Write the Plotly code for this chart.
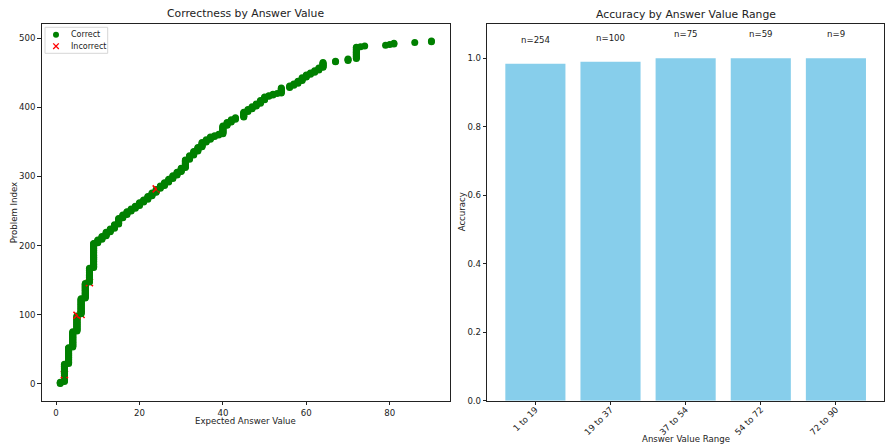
import numpy as np
import pandas as pd
import plotly.graph_objects as go

# Distinct expected answer values and the number of problems sharing each one
answer_values = [1, 2, 3, 4, 5, 6, 7, 8, 9,
                 10, 11, 12, 13, 14, 15, 16, 17, 18,
                 19, 20, 21, 22, 23, 24, 25, 26, 27, 28, 29, 30, 31, 32, 33, 34, 35, 36,
                 37, 38, 39, 40, 41, 42, 43, 45, 46, 47, 48, 49, 50, 51, 52, 53, 54,
                 56, 57, 58, 59, 60, 61, 62, 63, 64, 67, 70, 72,
                 73, 74, 79, 80, 81, 86, 90]
problem_counts = [3, 26, 24, 23, 24, 24, 22, 22, 36,
                  5, 5, 6, 5, 6, 9, 5, 5, 4,
                  4, 5, 4, 5, 5, 6, 4, 5, 5, 5, 5, 6, 12, 6, 6, 6, 7, 4,
                  4, 2, 2, 12, 5, 4, 3, 8, 4, 4, 4, 5, 5, 2, 2, 1, 8,
                  3, 3, 4, 5, 4, 3, 3, 4, 8, 2, 3, 17,
                  1, 1, 1, 1, 2, 1, 2]
# Problems (by index, sorted by answer value) that were answered incorrectly
incorrect_indices = [13, 99, 100, 146, 282]

n_bins = 5
FONT = "DejaVu Sans"
TXT = "#222"
W, H = 886, 445

# Per-problem table
values = np.repeat(answer_values, problem_counts)
index = np.arange(len(values))
correct = ~np.isin(index, incorrect_indices)

# Accuracy per equal-width answer-value range
cats = pd.cut(values, bins=n_bins)
df = pd.DataFrame({"value": values, "correct": correct, "bin": cats})
grp = df.groupby("bin", observed=False)["correct"]
acc = grp.mean().values
counts = grp.size().values
range_labels = [f"{int(round(iv.left))} to {int(round(iv.right))}" for iv in grp.mean().index]

fig = go.Figure()

# Scatter drawn in index order so later points overlap earlier ones
fig.add_trace(go.Scatter(
    x=values, y=index, mode="markers", showlegend=False,
    marker=dict(
        symbol=np.where(correct, "circle", "x-thin").tolist(),
        color=np.where(correct, "green", "red").tolist(),
        size=7,
        line=dict(color=np.where(correct, "green", "red").tolist(),
                  width=np.where(correct, 0, 1.6).tolist()),
    ),
    xaxis="x", yaxis="y",
))

fig.add_trace(go.Bar(x=list(range(n_bins)), y=acc, width=0.8,
                     marker=dict(color="skyblue", line=dict(width=0)),
                     showlegend=False, xaxis="x2", yaxis="y2"))


def px(x):
    return x / W


def py(y):
    return 1 - y / H


# Layout geometry
lx0, lx1 = px(41.7), px(450)
rx0, rx1 = px(487.3), px(884)
yb, yt = py(400.7), py(24)

axis_common = dict(showline=True, mirror=True, linecolor=TXT, linewidth=1,
                   ticks="outside", ticklen=3.5, tickcolor=TXT, tickwidth=1,
                   showgrid=False, zeroline=False, automargin=False,
                   tickfont=dict(family=FONT, size=8.6, color=TXT))

vmin, vmax = values.min(), values.max()
xpad = (vmax - vmin) * 0.05
ipad = (index.max() - index.min()) * 0.05


def label(text, x, y, size=8.6, angle=0, **kw):
    return dict(x=x, y=y, xref="paper", yref="paper", text=text,
                showarrow=False, textangle=angle, xanchor="center",
                yanchor="middle", font=dict(family=FONT, size=size, color=TXT), **kw)


annotations = []
for k in range(n_bins):
    annotations.append(dict(x=k, y=acc[k] + 0.05, xref="x2", yref="y2",
                            text=f"n={counts[k]}", showarrow=False,
                            yanchor="bottom", xanchor="center",
                            font=dict(family=FONT, size=8.6, color=TXT)))
# Titles and axis labels
annotations += [
    label("Correctness by Answer Value", (lx0 + lx1) / 2, py(14), size=10.8),
    label("Accuracy by Answer Value Range", (rx0 + rx1) / 2, py(15), size=10.8),
    label("Expected Answer Value", (lx0 + lx1) / 2, py(421)),
    label("Answer Value Range", (rx0 + rx1) / 2, py(439)),
    label("Problem Index", px(14), (yb + yt) / 2, angle=-90),
    label("Accuracy", px(462), (yb + yt) / 2, angle=-90),
]

# Legend box drawn with shapes and text
lg_x0, lg_x1, lg_y0, lg_y1 = 45, 107.7, 27.3, 53.3
mk_x, row1, row2 = 56, 34.7, 46.2
shapes = [
    dict(type="rect", xref="paper", yref="paper",
         x0=px(lg_x0), x1=px(lg_x1), y0=py(lg_y1), y1=py(lg_y0),
         line=dict(color="#d6d6d6", width=1), fillcolor="white", layer="above"),
    dict(type="circle", xref="paper", yref="paper",
         x0=px(mk_x - 3), x1=px(mk_x + 3), y0=py(row1 + 3), y1=py(row1 - 3),
         line=dict(width=0), fillcolor="green", layer="above"),
    dict(type="line", xref="paper", yref="paper",
         x0=px(mk_x - 2.8), x1=px(mk_x + 2.8), y0=py(row2 + 2.8), y1=py(row2 - 2.8),
         line=dict(color="red", width=1.3), layer="above"),
    dict(type="line", xref="paper", yref="paper",
         x0=px(mk_x - 2.8), x1=px(mk_x + 2.8), y0=py(row2 - 2.8), y1=py(row2 + 2.8),
         line=dict(color="red", width=1.3), layer="above"),
]
annotations += [
    dict(x=px(69), y=py(row1), xref="paper", yref="paper", text="Correct",
         showarrow=False, xanchor="left", yanchor="middle",
         font=dict(family=FONT, size=8, color=TXT)),
    dict(x=px(69), y=py(row2), xref="paper", yref="paper", text="Incorrect",
         showarrow=False, xanchor="left", yanchor="middle",
         font=dict(family=FONT, size=8, color=TXT)),
]

fig.update_layout(
    width=W, height=H, margin=dict(l=0, r=0, t=0, b=0, autoexpand=False),
    paper_bgcolor="white", plot_bgcolor="white",
    font=dict(family=FONT, color=TXT),
    showlegend=False,
    xaxis=dict(domain=[lx0, lx1], range=[vmin - xpad, vmax + xpad],
               tickvals=[0, 20, 40, 60, 80], anchor="y", **axis_common),
    yaxis=dict(domain=[yb, yt], range=[-ipad, index.max() + ipad],
               tickvals=[0, 100, 200, 300, 400, 500], anchor="x", **axis_common),
    xaxis2=dict(domain=[rx0, rx1], range=[-0.64, n_bins - 1 + 0.64],
                tickvals=list(range(n_bins)), ticktext=range_labels,
                tickangle=-45, anchor="y2", ticklabelstandoff=-4,
                **axis_common),
    yaxis2=dict(domain=[yb, yt], range=[0, 1.1], anchor="x2",
                tickvals=[0, 0.2, 0.4, 0.6, 0.8, 1.0], tickformat=".1f",
                **axis_common),
    annotations=annotations,
    shapes=shapes,
)

fig.write_html("out.html")
